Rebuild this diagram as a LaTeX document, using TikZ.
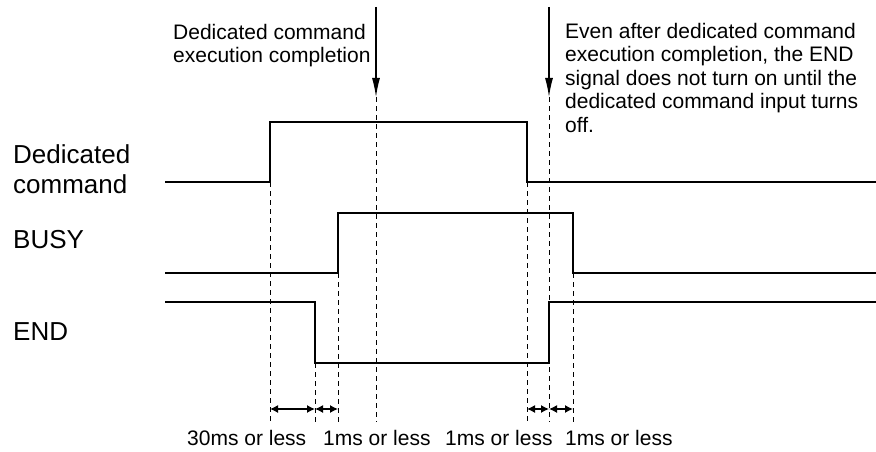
\documentclass[tikz,border=0pt]{standalone}
\usepackage{fontspec}
\setmainfont{Liberation Sans}
\usetikzlibrary{arrows.meta}
\tikzset{
 signal/.style={line width=2pt, line join=miter},
 guide/.style={line width=0.9pt, dash pattern=on 5pt off 4pt},
 pointer/.style={-{Latex[length=19pt,width=8pt]}, line width=1.2pt},
 span/.style={{Latex[length=8pt,width=8pt]}-{Latex[length=8pt,width=8pt]}, line width=1.3pt},
 sigtext/.style={inner sep=0pt, font=\fontsize{26}{30}\selectfont, align=left},
 notetext/.style={inner sep=0pt, font=\fontsize{21}{23.5}\selectfont, align=left}
}

\begin{document}
\begin{tikzpicture}[x=1pt, y=-1pt]
 \useasboundingbox (0,0) rectangle (876,452);

 %Signal names
 \node[sigtext, anchor=north west] (dc_name)   at (13,144) {Dedicated\\command};
 \node[sigtext, anchor=base west]  (busy_name) at (13,248) {BUSY};
 \node[sigtext, anchor=base west]  (end_name)  at (13,340) {END};

 %Notes
 \node[notetext, anchor=north west] (done_note) at (173,24) {Dedicated command\\execution completion};
 \node[notetext, anchor=north west] (end_note)  at (565,23) {Even after dedicated command\\execution completion, the END\\signal does not turn on until the\\dedicated command input turns\\off.};

 %Waveforms
 \draw[signal] (165,182) -- (270,182) -- (270,122) -- (527,122) -- (527,182) -- (876,182);
 \draw[signal] (165,273) -- (338,273) -- (338,213) -- (573,213) -- (573,273) -- (876,273);
 \draw[signal] (165,302) -- (315,302) -- (315,363) -- (549,363) -- (549,302) -- (876,302);

 %Guides
 \foreach \x/\ytop in {270/182, 315/363, 338/273, 376/97, 527/182, 549/97, 573/273}
  \draw[guide] (\x,\ytop) -- (\x,422);

 %Pointers
 \coordinate (done_top) at (376,7);
 \coordinate (done_tip) at (376,97);
 \coordinate (end_top)  at (549,7);
 \coordinate (end_tip)  at (549,97);
 \draw[pointer] (done_top) -- (done_tip);
 \draw[pointer] (end_top) -- (end_tip);

 %Spans
 \foreach \name/\x in {sa/270, sb/315, sc/338, sd/527, se/549, sf/573}
  \coordinate (\name) at (\x,409);
 \draw[span] (sa) -- (sb);
 \draw[span] (sb) -- (sc);
 \draw[span] (sd) -- (se);
 \draw[span] (se) -- (sf);

 \node[notetext, anchor=base west] (span_a) at (187,445) {30ms or less};
 \node[notetext, anchor=base west] (span_b) at (323,445) {1ms or less};
 \node[notetext, anchor=base west] (span_c) at (445,445) {1ms or less};
 \node[notetext, anchor=base west] (span_d) at (565,445) {1ms or less};
\end{tikzpicture}
\end{document}
